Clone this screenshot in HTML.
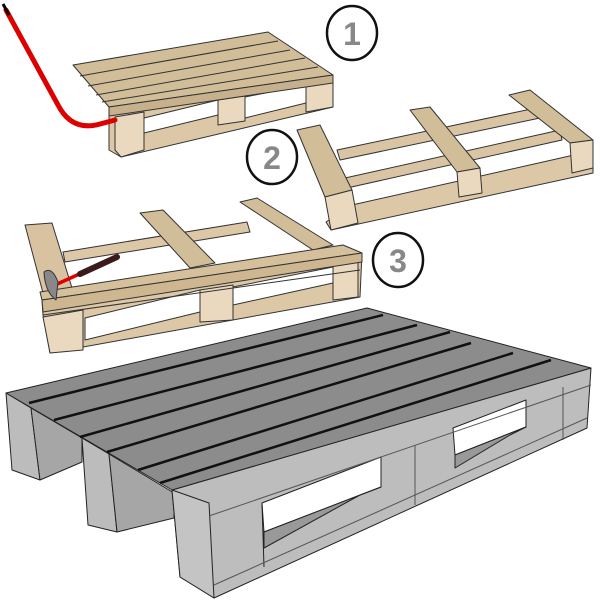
<!DOCTYPE html>
<html><head><style>body{margin:0;background:#fff}svg{display:block}</style></head><body>
<svg width="600" height="600" viewBox="0 0 600 600" xmlns="http://www.w3.org/2000/svg" stroke="#333" stroke-width="1" stroke-linejoin="round">
<!-- Pallet 1 -->
<g>
<polygon points="109,107 333,75 333,107 121,157 109,150" fill="#dcc7a6"/>
<polygon points="144,133 218,115 218,100 144,118" fill="#fff"/>
<polygon points="245,97 306,85 306,103 245,118" fill="#fff"/>
<polygon points="115,117 144,112 144,150 121,157 115,150" fill="#ead9bf"/>
<polygon points="218,100 245,96 245,121 218,125" fill="#ead9bf"/>
<polygon points="306,85 333,80 333,107 306,112" fill="#ead9bf"/>
<polygon points="73,65 268,32 333,75 109,107" fill="#d2bd99"/>
<line x1="80" y1="76" x2="278" y2="41"/><line x1="88" y1="86" x2="290" y2="50"/><line x1="96" y1="95" x2="305" y2="58"/><line x1="102" y1="102" x2="318" y2="67"/>
<polygon points="109,107 333,75 333,83 109,116" fill="#c7b08c"/>
</g>
<!-- crowbar -->
<path d="M6,10 L58,105 Q72,132 100,124 L115,120" fill="none" stroke="#d00" stroke-width="5" stroke-linecap="round"/>
<path d="M3,4 L9,15" stroke="#000" stroke-width="3"/>
<!-- Pallet 2 -->
<g>
<polygon points="337,150 536,108 540,118 340,160" fill="#d9c4a3"/>
<polygon points="345,178 560,130 562,140 347,188" fill="#d9c4a3"/>
<polygon points="352,205 574,155 593,165 593,173 331,230 326,222" fill="#dcc7a6"/>
<polygon points="297,130 320,125 352,190 325,197" fill="#d2bd99"/>
<polygon points="325,197 352,190 358,223 331,230" fill="#ead9bf"/>
<polygon points="410,110 430,107 480,168 457,172" fill="#d2bd99"/>
<polygon points="457,172 480,168 482,193 459,197" fill="#ead9bf"/>
<polygon points="509,95 530,90 593,140 570,143" fill="#d2bd99"/>
<polygon points="570,143 593,140 593,168 572,173" fill="#ead9bf"/>
</g>
<!-- Pallet 3 -->
<g>
<polygon points="63,252 247,222 250,232 65,262" fill="#dcc7a6"/>
<polygon points="42,300 362,253 360,297 50,353 43,315" fill="#dcc7a6"/>
<polygon points="85,318 200,290 200,312 85,340" fill="#fff"/>
<polygon points="233,287 333,267 333,283 233,305" fill="#fff"/>
<polygon points="43,317 83,310 83,350 50,353" fill="#ead9bf"/>
<polygon points="200,290 233,285 233,320 200,322" fill="#ead9bf"/>
<polygon points="333,265 358,262 358,297 333,300" fill="#ead9bf"/>
<polygon points="25,225 52,223 72,288 43,293" fill="#d8c2a0"/>
<polygon points="140,213 163,210 215,263 190,268" fill="#d2bd99"/>
<polygon points="240,202 257,198 333,245 313,250" fill="#d2bd99"/>
<polygon points="40,292 343,245 362,253 42,300" fill="#d6c09c"/>
<polygon points="42,300 362,253 362,262 43,312" fill="#cdb690"/>
<line x1="43" y1="315" x2="360" y2="270"/>
</g>
<!-- hammer -->
<path d="M55,285 L117,257" stroke="#d00" stroke-width="3.5"/>
<path d="M80,274 L117,257" stroke="#3a1a1a" stroke-width="6" stroke-linecap="round"/>
<path d="M44,272 Q52,266 58,282 L56,300 Q45,292 44,272Z" fill="#888"/>
<!-- circles -->
<g fill="#fff" stroke="#111" stroke-width="2.5">
<ellipse cx="352" cy="33" rx="25" ry="27"/>
<ellipse cx="272" cy="157" rx="25" ry="27"/>
<ellipse cx="398" cy="260" rx="25" ry="27"/>
</g>
<g font-family="Liberation Sans, sans-serif" font-weight="bold" font-size="32" fill="#888" stroke="none" text-anchor="middle">
<text x="352" y="45">1</text><text x="272" y="169">2</text><text x="398" y="272">3</text>
</g>
<!-- Gray pallet -->
<g stroke="#222">
<polygon points="6,393 31,408 40,480 12,470" fill="#bcbcbc"/>
<polygon points="31,408 82,438 82,462 40,480" fill="#a6a6a6"/>
<polygon points="82,438 109,454 117,532 88,525" fill="#bcbcbc"/>
<polygon points="109,454 174,493 174,518 117,532" fill="#a6a6a6"/>
<polygon points="172,490 591,368 587,428 214,598 180,577" fill="#bdbdbd"/>
<polygon points="172,490 209,503 214,598 180,577" fill="#c4c4c4"/>
<polygon points="262,503 381,457 381,487 264,532" fill="#fff"/>
<polygon points="264,532 381,487 360,495 264,548" fill="#999"/>
<polygon points="453,428 526,400 526,427 455,455" fill="#fff"/>
<polygon points="455,455 526,427 510,435 455,468" fill="#999"/>
<line x1="262" y1="503" x2="264" y2="567" stroke="#222"/>
<line x1="415" y1="445" x2="415" y2="505" stroke="#555"/>
<line x1="563" y1="387" x2="563" y2="440" stroke="#555"/>
<polygon points="6,393 367,308 591,368 172,490" fill="#8c8c8c"/>
<g stroke="#111" stroke-width="2.5">
<line x1="29" y1="403" x2="383" y2="315"/>
<line x1="54" y1="420" x2="417" y2="325"/>
<line x1="80" y1="437" x2="450" y2="332"/>
<line x1="107" y1="452" x2="471" y2="343"/>
<line x1="138" y1="470" x2="513" y2="353"/>
<line x1="160" y1="483" x2="551" y2="360"/>
</g>
<line x1="209" y1="516" x2="591" y2="385" stroke="#555"/>
<line x1="214" y1="585" x2="587" y2="418" stroke="#555"/>
</g>
</svg>
</body></html>
